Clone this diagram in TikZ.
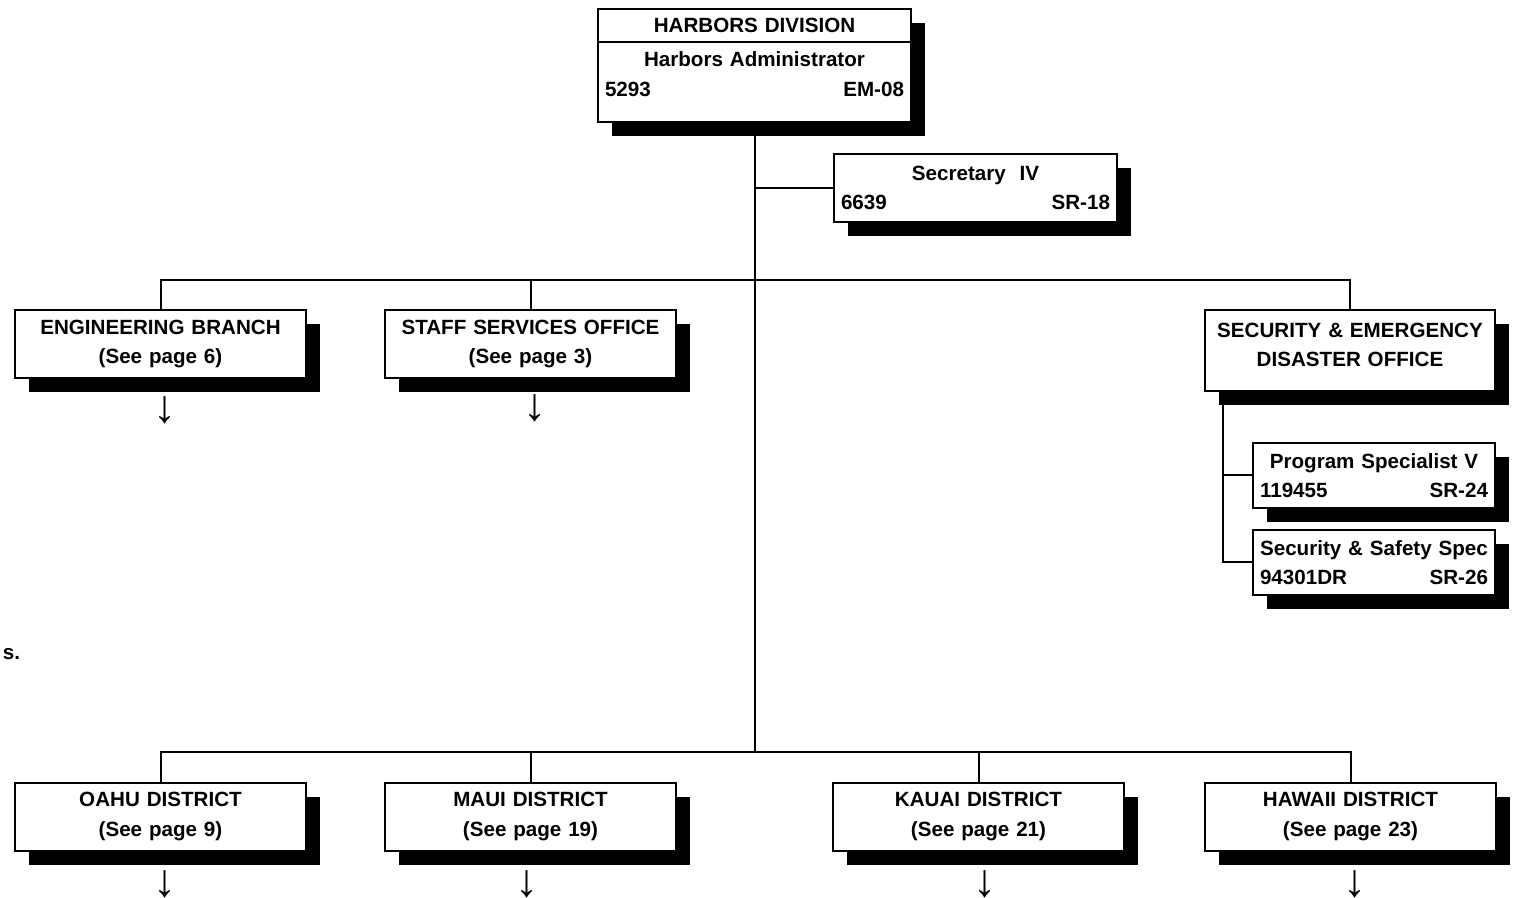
\documentclass[tikz,border=0pt]{standalone}
\usepackage{fontspec}
\setmainfont{Liberation Sans}
\usetikzlibrary{positioning,shadows}

\begin{document}
\begin{tikzpicture}[x=0.5pt, y=-0.5pt, node distance=185pt, line width=1pt,
        font=\bfseries\fontsize{10.3}{14.75}\selectfont,
        orgbox/.style={draw, rectangle, fill=white, line width=1pt, align=center,
            inner xsep=3.5pt, inner ysep=2pt,
            drop shadow={shadow xshift=7pt, shadow yshift=-7pt, fill=black, opacity=1}},
        unitbox/.style={orgbox, text width=138.5pt, minimum height=34pt},
        posbox/.style={orgbox, text width=114pt, minimum height=32.5pt},
        moreref/.style={inner sep=0pt, font=\bfseries\fontsize{23}{23}\selectfont}]
        \useasboundingbox (0,0) rectangle (1522,898);

        % Nodes
        \node[orgbox, text width=149.5pt, minimum height=56.5pt] (hd) at (754.5,65.5)
            {HARBORS DIVISION\\[2.25pt]Harbors Administrator\\5293\hfill EM-08\rule[-8pt]{0pt}{0pt}};
        \node[orgbox, text width=134.5pt, minimum height=34pt] (sec) at (975.5,188)
            {Secretary\ \ IV\\6639\hfill SR-18};
        \node[unitbox] (eng) at (160.5,344) {ENGINEERING BRANCH\\(See page 6)};
        \node[unitbox, right of=eng] (staff) {STAFF SERVICES OFFICE\\(See page 3)};
        \node[orgbox, text width=138pt, minimum height=40.5pt] (sedo) at (1350,350.5)
            {SECURITY \& EMERGENCY\\DISASTER OFFICE\rule[-5.5pt]{0pt}{0pt}};
        \node[posbox] (prog) at (1374,475.5) {Program Specialist V\\119455\hfill SR-24};
        \node[posbox, below of=prog, node distance=43.5pt] (safety) {Security \& Safety Spec\\94301DR\hfill SR-26};
        \node[unitbox] (oahu) at (160.5,816.5) {OAHU DISTRICT\\(See page 9)};
        \node[unitbox, right of=oahu] (maui) {MAUI DISTRICT\\(See page 19)};
        \node[unitbox, right of=maui, xshift=39pt] (kauai) {KAUAI DISTRICT\\(See page 21)};
        \node[unitbox, right of=kauai, xshift=1pt] (hawaii) {HAWAII DISTRICT\\(See page 23)};
        \node[anchor=west, inner sep=0pt] (pagenote) at (2,654) {s.};

        % Continued on other pages
        \node[moreref, below of=eng, node distance=33pt, xshift=2pt] (engmore) {↓};
        \node[moreref, below of=staff, node distance=32pt, xshift=2pt] (staffmore) {↓};
        \node[moreref, below of=oahu, node distance=34pt, xshift=2pt] (oahumore) {↓};
        \node[moreref, below of=maui, node distance=34pt, xshift=-2pt] (mauimore) {↓};
        \node[moreref, below of=kauai, node distance=34pt, xshift=3pt] (kauaimore) {↓};
        \node[moreref, below of=hawaii, node distance=34pt, xshift=2pt] (hawaiimore) {↓};

        % Lines
        \coordinate (hdsplit) at (754.5,42);
        \coordinate (topbus) at (755,280);
        \coordinate (lowbus) at (755,752);
        \coordinate (sedoleg) at (1223,392);
        \draw (hd.west |- hdsplit) -- (hd.east |- hdsplit);
        \draw (hd.south) -- (hd.south |- lowbus);
        \draw (hd.south |- sec.west) -- (sec.west);
        \draw (eng.north) -- (eng.north |- topbus) -- (sedo.north |- topbus) -- (sedo.north);
        \draw (staff.north) -- (staff.north |- topbus);
        \draw (oahu.north) -- (oahu.north |- lowbus) -- (hawaii.north |- lowbus) -- (hawaii.north);
        \draw (maui.north) -- (maui.north |- lowbus);
        \draw (kauai.north) -- (kauai.north |- lowbus);
        \draw (sedoleg |- sedo.south) -- (sedoleg |- safety.west) -- (safety.west);
        \draw (sedoleg |- prog.west) -- (prog.west);
    \end{tikzpicture}
\end{document}
